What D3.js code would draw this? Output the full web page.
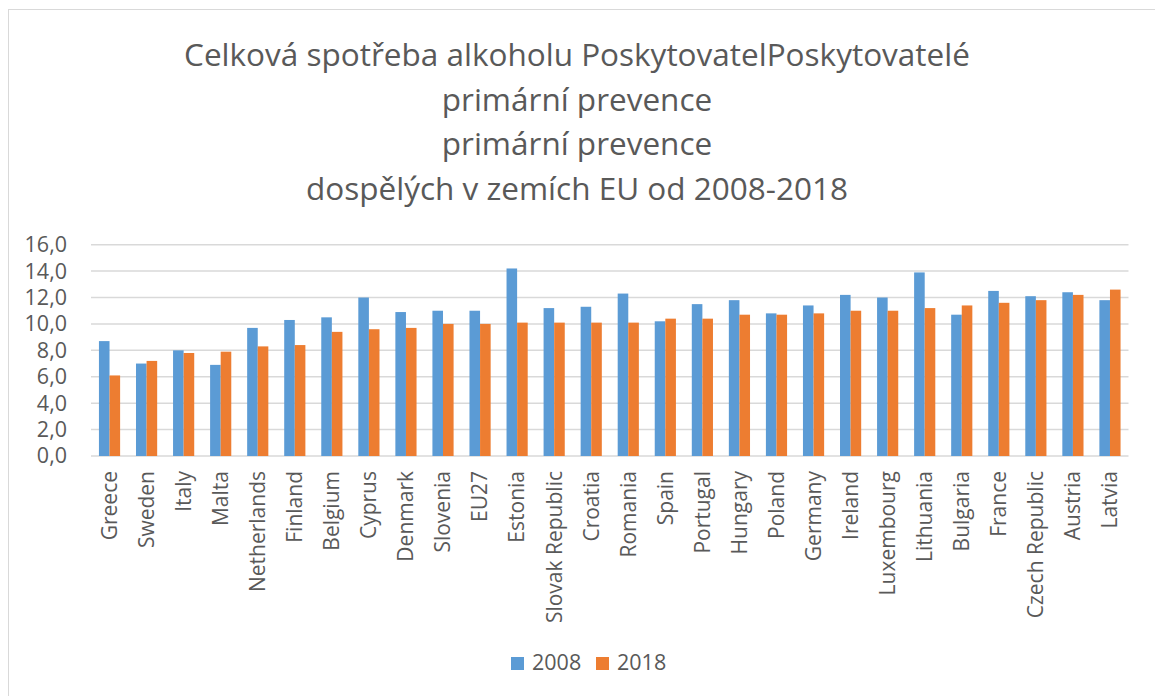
<!DOCTYPE html>
<html>
<head>
<meta charset="utf-8">
<script src="https://cdn.jsdelivr.net/npm/d3@7"></script>
<style>
  body { margin: 0; background: #fff; }
  text { font-family: "Open Sans", sans-serif; fill: #595959; }
</style>
</head>
<body>
<div id="chart"></div>
<script>
// chart data
const countries = ["Greece", "Sweden", "Italy", "Malta", "Netherlands", "Finland", "Belgium", "Cyprus",
  "Denmark", "Slovenia", "EU27", "Estonia", "Slovak Republic", "Croatia", "Romania", "Spain",
  "Portugal", "Hungary", "Poland", "Germany", "Ireland", "Luxembourg", "Lithuania", "Bulgaria",
  "France", "Czech Republic", "Austria", "Latvia"];
const years = ["2008", "2018"];
const values2008 = [8.7, 7.0, 8.0, 6.9, 9.7, 10.3, 10.5, 12.0, 10.9, 11.0, 11.0, 14.2, 11.2, 11.3, 12.3, 10.2,
  11.5, 11.8, 10.8, 11.4, 12.2, 12.0, 13.9, 10.7, 12.5, 12.1, 12.4, 11.8];
const values2018 = [6.1, 7.2, 7.8, 7.9, 8.3, 8.4, 9.4, 9.6, 9.7, 10.0, 10.0, 10.1, 10.1, 10.1, 10.1, 10.4,
  10.4, 10.7, 10.7, 10.8, 11.0, 11.0, 11.2, 11.4, 11.6, 11.8, 12.2, 12.6];
const yTicks = [0, 2, 4, 6, 8, 10, 12, 14, 16];
const titleLines = ["Celková spotřeba alkoholu PoskytovatelPoskytovatelé", "primární prevence",
  "primární prevence", "dospělých v zemích EU od 2008-2018"];

const width = 1155, height = 696;
const colors = { "2008": "#5b9bd5", "2018": "#ed7d31" };
const plot = { left: 91, right: 1128.5, top: 244.7, bottom: 456 };

const svg = d3.select("#chart").append("svg")
  .attr("width", width)
  .attr("height", height);

// chart border (only top/left visible in the frame)
svg.append("rect")
  .attr("x", 8.5).attr("y", 9.5)
  .attr("width", 1160).attr("height", 700)
  .attr("fill", "#fff")
  .attr("stroke", "#d9d9d9")
  .attr("stroke-width", 1);

// title
svg.append("g").selectAll("text")
  .data(titleLines)
  .join("text")
  .attr("x", 577)
  .attr("y", (d, i) => 66 + i * 44.5)
  .attr("text-anchor", "middle")
  .attr("font-size", "31.5px")
  .text(d => d);

const x0 = d3.scaleBand().domain(countries).range([plot.left, plot.right]).padding(0);
const x1 = d3.scaleBand().domain(years).range([0, x0.bandwidth()]).paddingInner(0).paddingOuter(0.75);
const y = d3.scaleLinear().domain([0, 16]).range([plot.bottom, plot.top]);

// gridlines
svg.append("g").selectAll("line")
  .data(yTicks)
  .join("line")
  .attr("x1", plot.left).attr("x2", plot.right)
  .attr("y1", d => y(d)).attr("y2", d => y(d))
  .attr("stroke", "#d9d9d9")
  .attr("stroke-width", 1.5);

// y axis labels
const yAxis = svg.append("g")
  .attr("transform", `translate(${plot.left},0)`)
  .call(d3.axisLeft(y).tickValues(yTicks).tickSize(0).tickPadding(24)
    .tickFormat(d => d3.format(".1f")(d).replace(".", ",")));
yAxis.select(".domain").remove();
yAxis.selectAll("text")
  .attr("font-size", "21.5px")
  .attr("font-family", "Open Sans, sans-serif")
  .attr("fill", "#595959");

// bars
const series = [values2008, values2018];
const groups = svg.append("g").selectAll("g")
  .data(countries)
  .join("g")
  .attr("transform", d => `translate(${x0(d)},0)`);

groups.selectAll("rect")
  .data((d, i) => years.map((yr, k) => ({ yr, v: series[k][i] })))
  .join("rect")
  .attr("x", d => x1(d.yr))
  .attr("y", d => y(d.v))
  .attr("width", x1.bandwidth())
  .attr("height", d => y(0) - y(d.v))
  .attr("fill", d => colors[d.yr]);

// x axis labels
const xAxis = svg.append("g")
  .attr("transform", `translate(0,${plot.bottom})`)
  .call(d3.axisBottom(x0).tickSize(0).tickPadding(0));
xAxis.select(".domain").remove();
xAxis.selectAll("text")
  .attr("font-size", "21px")
  .attr("font-family", "Open Sans, sans-serif")
  .attr("fill", "#595959")
  .attr("text-anchor", "end")
  .attr("transform", "rotate(-90)")
  .attr("x", -15)
  .attr("y", 0)
  .attr("dy", "0.35em");

// legend
const legend = svg.append("g").attr("transform", "translate(511,657)");
const legItems = legend.selectAll("g")
  .data(years)
  .join("g")
  .attr("transform", (d, i) => `translate(${i * 85},0)`);
legItems.append("rect")
  .attr("width", 13).attr("height", 13)
  .attr("fill", d => colors[d]);
legItems.append("text")
  .attr("x", 21).attr("y", 13)
  .attr("font-size", "21.5px")
  .text(d => d);
</script>
</body>
</html>
